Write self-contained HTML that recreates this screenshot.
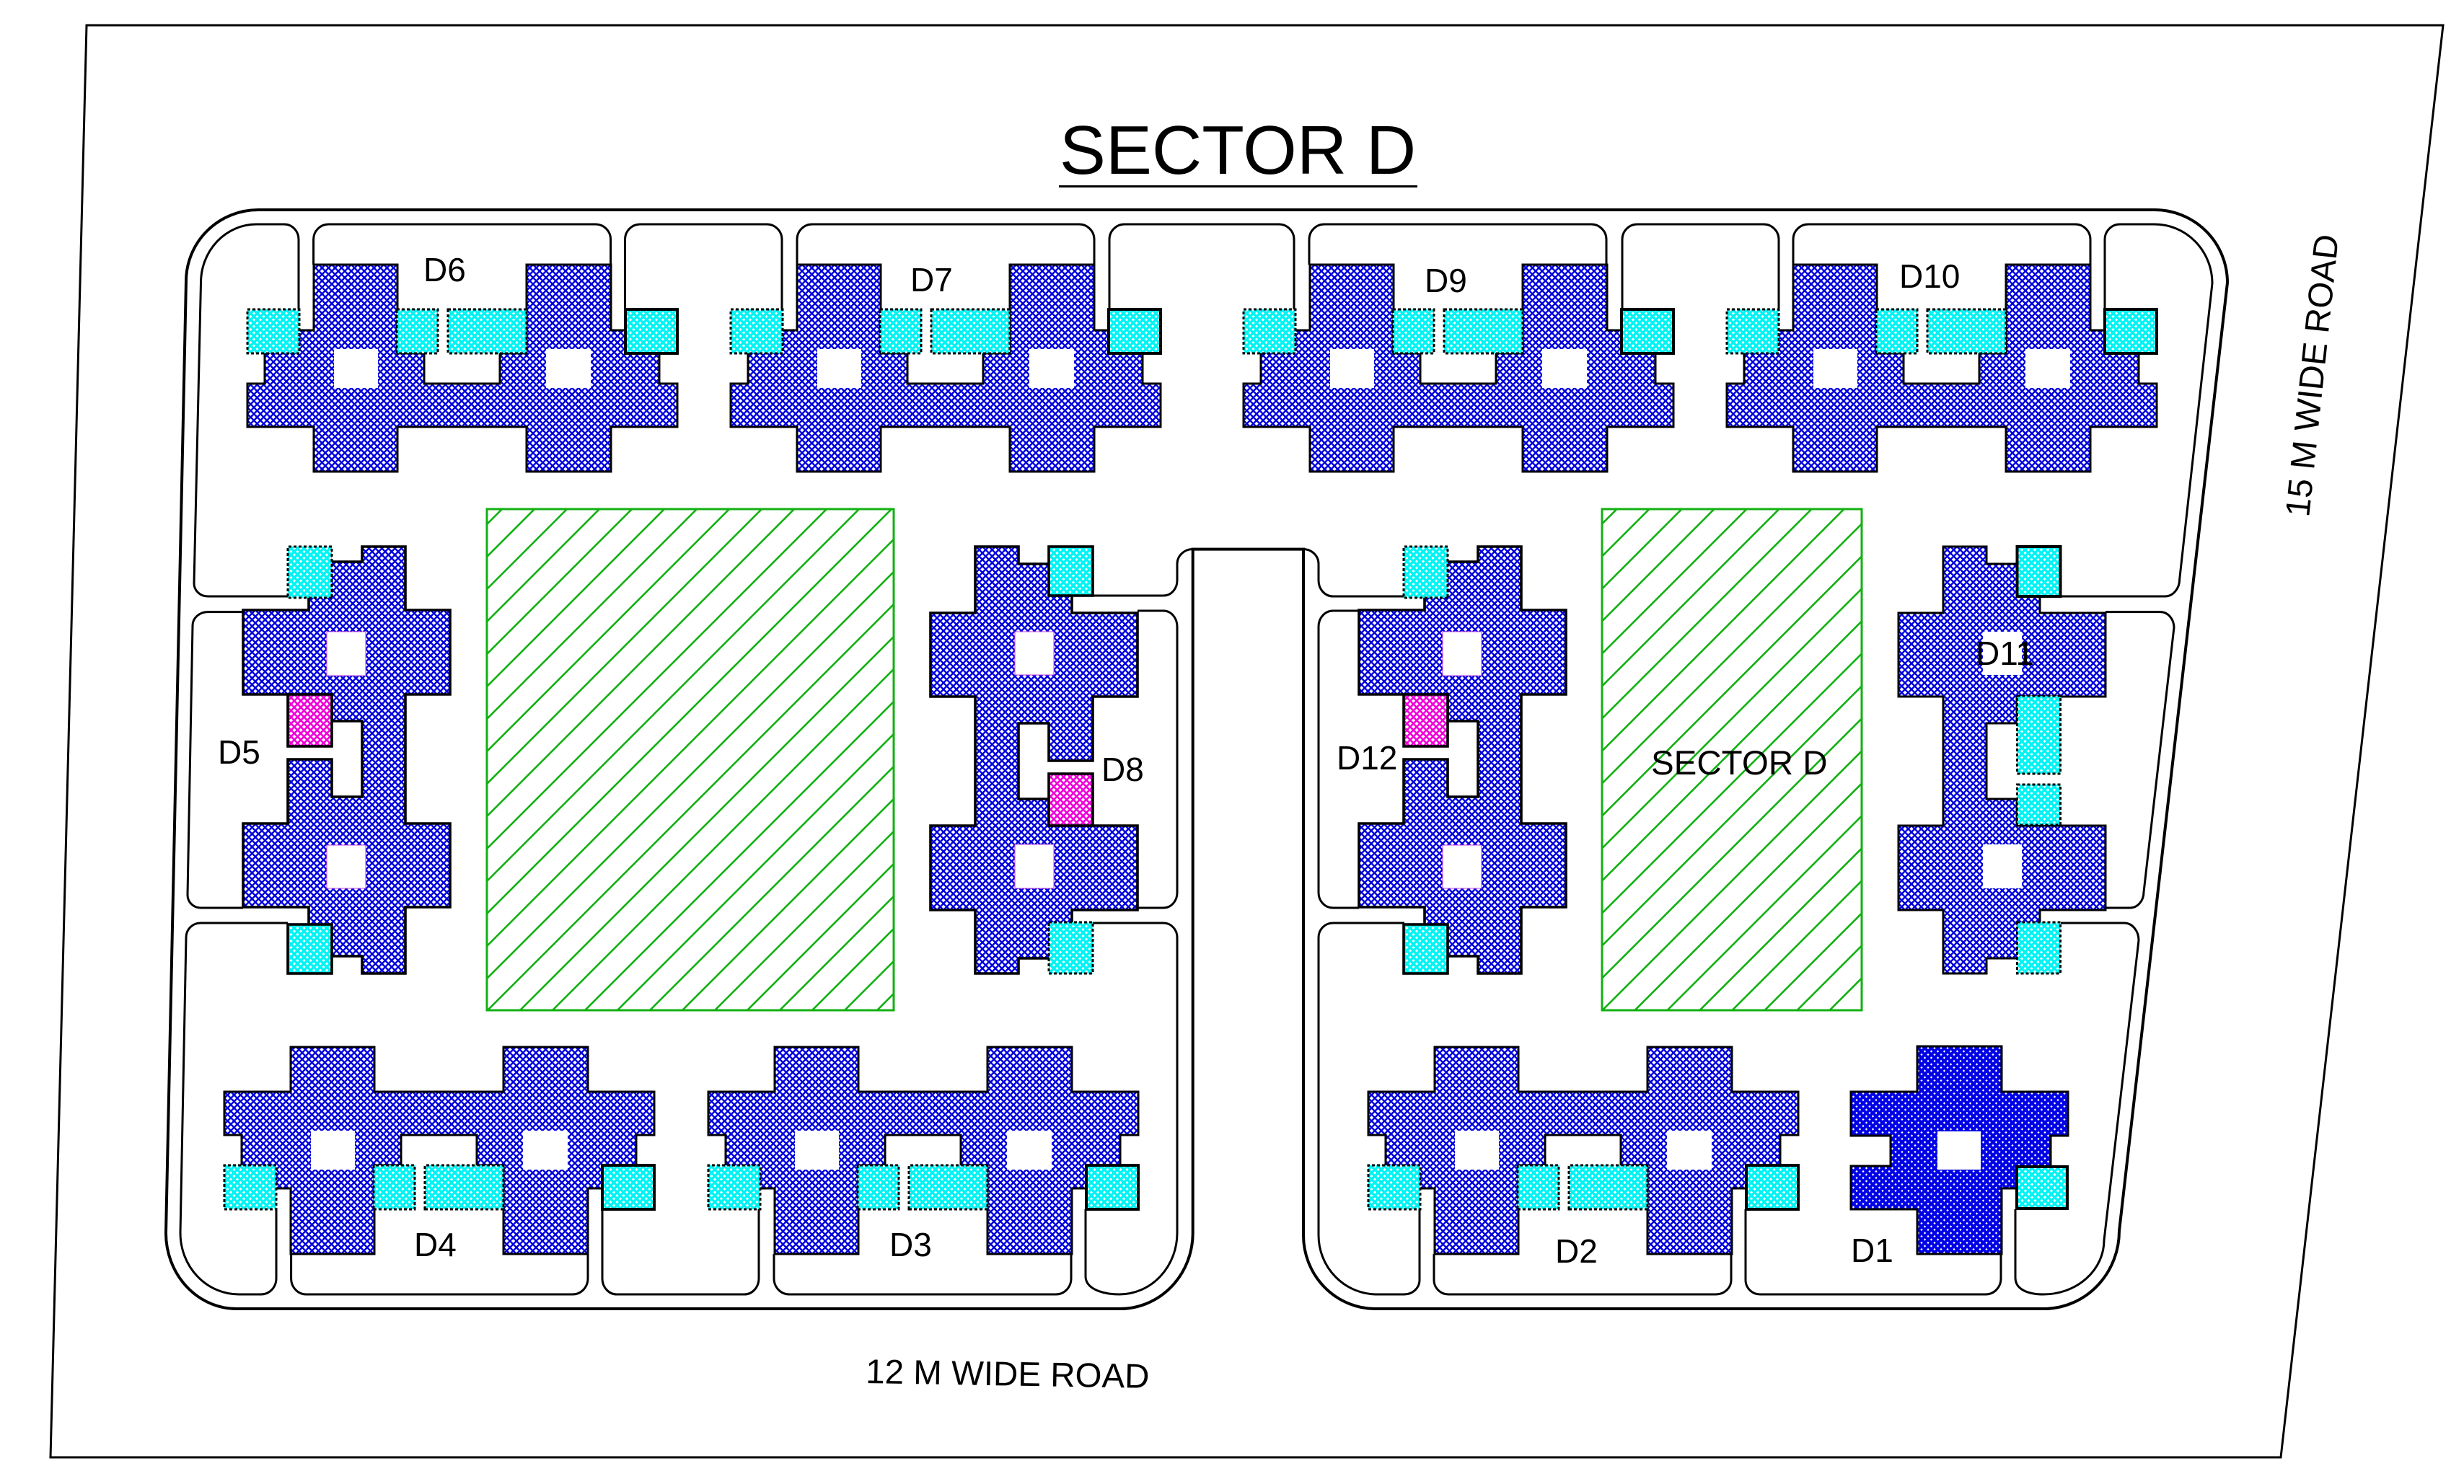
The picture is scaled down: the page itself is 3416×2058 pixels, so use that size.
<!DOCTYPE html>
<html>
<head>
<meta charset="utf-8">
<title>Sector D</title>
<style>
html,body{margin:0;padding:0;background:#fff}
svg{display:block}
text{font-family:"Liberation Sans",Arial,sans-serif;fill:#000}
</style>
</head>
<body>
<svg xmlns="http://www.w3.org/2000/svg" width="3416" height="2058" viewBox="0 0 3416 2058">
<defs>
<pattern id="b" width="9" height="9" patternUnits="userSpaceOnUse"><rect width="9" height="9" fill="#fff"/><path d="M-2-2L11 11M11-2L-2 11" stroke="#0000dc" stroke-width="2.4" fill="none"/></pattern>
<pattern id="bd" width="9" height="9" patternUnits="userSpaceOnUse"><rect width="9" height="9" fill="#fff"/><path d="M-2-2L11 11M11-2L-2 11" stroke="#0000e6" stroke-width="4" fill="none"/></pattern>
<pattern id="c" width="9" height="9" patternUnits="userSpaceOnUse"><rect width="9" height="9" fill="#fff"/><path d="M-2-2L11 11M11-2L-2 11" stroke="#00f4f4" stroke-width="3.4" fill="none"/></pattern>
<pattern id="m" width="9" height="9" patternUnits="userSpaceOnUse"><rect width="9" height="9" fill="#fff"/><path d="M-2-2L11 11M11-2L-2 11" stroke="#f000d8" stroke-width="2.6" fill="none"/></pattern>
<pattern id="g1" width="45" height="45" patternUnits="userSpaceOnUse" patternTransform="translate(7,0)"><path d="M-5 50L50-5M-5 5L5-5M40 50L50 40" stroke="#12b012" stroke-width="2.6" fill="none"/></pattern>
<pattern id="g2" width="45" height="45" patternUnits="userSpaceOnUse" patternTransform="translate(22.5,0)"><path d="M-5 50L50-5M-5 5L5-5M40 50L50 40" stroke="#12b012" stroke-width="2.6" fill="none"/></pattern>

<g id="h">
<polygon points="92,0 208,0 208,123 245,123 245,165 350,165 350,123 387,123 387,0 504,0 504,91 571,91 571,165 596,165 596,225 504,225 504,287 387,287 387,225 208,225 208,287 92,287 92,225 0,225 0,165 24,165 24,91 92,91" fill="url(#b)" stroke="#000" stroke-width="3"/>
<rect x="120" y="117" width="61" height="54" fill="#fff"/>
<rect x="414" y="117" width="62" height="54" fill="#fff"/>
<rect x="0" y="62" width="72" height="61" fill="url(#c)" stroke="#000" stroke-width="3" stroke-dasharray="4 3"/>
<rect x="207" y="62" width="57" height="61" fill="url(#c)" stroke="#000" stroke-width="3" stroke-dasharray="4 3"/>
<rect x="278" y="62" width="109" height="61" fill="url(#c)" stroke="#000" stroke-width="3" stroke-dasharray="4 3"/>
<rect x="524" y="62" width="72" height="61" fill="url(#c)" stroke="#000" stroke-width="4"/>
</g>

<g id="d8">
<polygon points="287,92 287,208 225,208 225,297 164,297 164,245 122,245 122,350 164,350 164,387 287,387 287,504 196,504 196,571 122,571 122,592 62,592 62,504 0,504 0,387 62,387 62,208 0,208 0,92 62,92 62,0 122,0 122,24 196,24 196,92" fill="url(#b)" stroke="#000" stroke-width="3.6"/>
<rect x="117" y="118" width="54" height="60" fill="#fff" stroke="#c040e0" stroke-width="1"/>
<rect x="117" y="413" width="54" height="61" fill="#fff" stroke="#c040e0" stroke-width="1"/>
<rect x="164" y="0" width="61" height="68" fill="url(#c)" stroke="#000" stroke-width="3.6"/>
<rect x="164" y="315" width="61" height="72" fill="url(#m)" stroke="#000" stroke-width="3.6"/>
<rect x="164" y="521" width="61" height="71" fill="url(#c)" stroke="#000" stroke-width="3" stroke-dasharray="4 3"/>
</g>
</defs>

<rect width="3416" height="2058" fill="#fff"/>

<!-- site boundary -->
<polygon points="120,35 3387,35 3162,2021 70,2021" fill="none" stroke="#000" stroke-width="3"/>

<!-- road outer -->
<path d="M358 291H2987A101 101 0 0 1 3088 392L2938 1707A105 108 0 0 1 2837 1815H1907A100 102 0 0 1 1807 1713V761.6H1653.7V1710A101 105 0 0 1 1552 1815H328.5A98 105 0 0 1 230 1710L258 390A100 99 0 0 1 358 291Z" fill="none" stroke="#000" stroke-width="4"/>

<g fill="none" stroke="#000" stroke-width="3">
<path d="M414 430V332A20 21 0 0 0 394 311H355A77 81 0 0 0 278.5 392L269 809A19 18 0 0 0 288 827H400"/>
<path d="M434.6 367V332A21 21 0 0 1 455 311H826A21 21 0 0 1 846.6 332V367"/>
<path d="M866.5 430V332A21 21 0 0 1 887 311H1063A21 21 0 0 1 1084 332V430"/>
<path d="M1105 367V332A21 21 0 0 1 1126 311H1496A21 21 0 0 1 1517 332V367"/>
<path d="M1538 430V332A21 21 0 0 1 1559 311H1773A21 21 0 0 1 1794 332V430"/>
<path d="M1815 367V332A21 21 0 0 1 1836 311H2206A21 21 0 0 1 2227 332V367"/>
<path d="M2249 430V332A21 21 0 0 1 2270 311H2445A21 21 0 0 1 2466 332V430"/>
<path d="M2486 367V332A21 21 0 0 1 2507 311H2877A21 21 0 0 1 2898 332V367"/>
<path d="M2918 430V332A21 21 0 0 1 2939 311H2987A80 82 0 0 1 3067 393L3021.7 803A20 24 0 0 1 3001.7 827H2857"/>
<path d="M2919 848.6H2995A19 22 0 0 1 3014 870L2972 1237A19 22 0 0 1 2953 1259H2919"/>
<path d="M2857 1280H2945A20 24 0 0 1 2965 1304L2917 1720A84 75 0 0 1 2833 1795C2815 1795 2794 1790 2794 1772V1677"/>
<path d="M2774 1739V1773A21 22 0 0 1 2753 1795H2440A20 20 0 0 1 2420 1775V1677"/>
<path d="M2400 1739V1775A21 20 0 0 1 2379 1795H2008A20 20 0 0 1 1988 1775V1739"/>
<path d="M1968 1677V1775A21 20 0 0 1 1947 1795H1909A81 82 0 0 1 1828 1713V1300A20 20 0 0 1 1848 1280H1947"/>
<path d="M1884 1259H1848A20 21 0 0 1 1828 1238V869A20 22 0 0 1 1848 847H1884"/>
<path d="M1947 827H1848A20 22 0 0 1 1828 805V782A21 20.4 0 0 0 1807 761.6"/>
<path d="M1515 826H1613A19 21 0 0 0 1632 805V782A21.7 20.4 0 0 1 1653.7 761.6"/>
<path d="M1577 847H1613A19 22 0 0 1 1632 869V1238A19 21 0 0 1 1613 1259H1577"/>
<path d="M1515 1280H1613A19 20 0 0 1 1632 1300V1710A80 85 0 0 1 1552 1795C1530 1795 1505 1788 1505 1770V1677"/>
<path d="M1485 1739V1773A21 22 0 0 1 1464 1795H1094A21 22 0 0 1 1073 1773V1739"/>
<path d="M835 1677V1773A20 22 0 0 0 855 1795H1032A20 22 0 0 0 1052 1773V1677"/>
<path d="M403.6 1739V1773A21 22 0 0 0 424 1795H794A21 22 0 0 0 815 1773V1739"/>
<path d="M383 1677V1773A21 22 0 0 1 362 1795H331A81 85 0 0 1 250 1710L258 1300A20 20 0 0 1 278 1280H399"/>
<path d="M337 1259H278A18 18 0 0 1 260 1241L267 868A21 19 0 0 1 288 848.6H337"/>
</g>

<!-- green spaces -->
<rect x="675" y="706" width="564" height="695" fill="url(#g1)" stroke="#12b012" stroke-width="3"/>
<rect x="2221" y="706" width="360" height="695" fill="url(#g2)" stroke="#12b012" stroke-width="3"/>

<!-- buildings: top row -->
<use href="#h" transform="translate(343,367)"/>
<use href="#h" transform="translate(1013,367)"/>
<use href="#h" transform="translate(1724,367)"/>
<use href="#h" transform="translate(2394,367)"/>

<!-- buildings: bottom row -->
<use href="#h" transform="translate(311,1739) scale(1,-1)"/>
<use href="#h" transform="translate(982,1739) scale(1,-1)"/>
<use href="#h" transform="translate(1897,1739) scale(1,-1)"/>

<!-- D8, D5, D12 -->
<use href="#d8" transform="translate(1290,758)"/>
<use href="#d8" transform="translate(624,1350) rotate(180)"/>
<use href="#d8" transform="translate(2171,1350) rotate(180)"/>

<!-- D11 -->
<g transform="translate(2632,758)">
<polygon points="287,92 287,208 164,208 164,245 122,245 122,350 164,350 164,387 287,387 287,504 196,504 196,571 122,571 122,592 62,592 62,504 0,504 0,387 62,387 62,208 0,208 0,92 62,92 62,0 122,0 122,24 196,24 196,92" fill="url(#b)" stroke="#000" stroke-width="3"/>
<rect x="117" y="118" width="54" height="60" fill="#fff"/>
<rect x="117" y="413" width="54" height="61" fill="#fff"/>
<rect x="164.500" y="0" width="60" height="69" fill="url(#c)" stroke="#000" stroke-width="4"/>
<rect x="164.500" y="207" width="60" height="108" fill="url(#c)" stroke="#000" stroke-width="3" stroke-dasharray="4 3"/>
<rect x="164.500" y="330" width="60" height="56" fill="url(#c)" stroke="#000" stroke-width="3" stroke-dasharray="4 3"/>
<rect x="164.500" y="521" width="60" height="71" fill="url(#c)" stroke="#000" stroke-width="3" stroke-dasharray="4 3"/>
</g>

<!-- D1 -->
<polygon points="2658,1451 2775,1451 2775,1514 2867,1514 2867,1575 2843,1575 2843,1617 2843,1648 2775,1648 2775,1739 2658,1739 2658,1677 2566,1677 2566,1617 2621,1617 2621,1575 2566,1575 2566,1514 2658,1514" fill="url(#bd)" stroke="#000" stroke-width="3"/>
<rect x="2686" y="1569" width="60" height="53" fill="#fff"/>
<rect x="2796" y="1618" width="70" height="58" fill="url(#c)" stroke="#000" stroke-width="4"/>

<!-- title -->
<text x="1716" y="241" font-size="96" text-anchor="middle">SECTOR D</text>
<rect x="1468" y="257" width="497" height="3" fill="#000"/>

<!-- road labels -->
<text x="1200" y="1918" font-size="47.500" transform="rotate(1 1200 1918)">12 M WIDE ROAD</text>
<text x="3201" y="718" font-size="47.500" transform="rotate(-84 3201 718)">15 M WIDE ROAD</text>

<!-- plot labels -->
<g font-size="46">
<text x="587" y="390">D6</text>
<text x="1262" y="404">D7</text>
<text x="1975" y="405">D9</text>
<text x="2633" y="399">D10</text>
<text x="302" y="1059">D5</text>
<text x="1527" y="1083">D8</text>
<text x="1853" y="1067">D12</text>
<text x="2739" y="922">D11</text>
<text x="2156" y="1751">D2</text>
<text x="574" y="1742">D4</text>
<text x="1233" y="1742">D3</text>
<text x="2566" y="1750">D1</text>
</g>
<text x="2289" y="1074" font-size="47.500">SECTOR D</text>
</svg>
</body>
</html>
